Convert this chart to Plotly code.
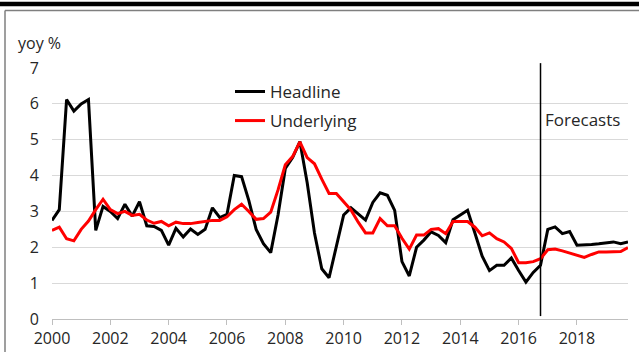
import plotly.graph_objects as go

# ---- data (quarterly, 2000Q1 .. 2019Q4) ----
start_year = 2000
headline = [2.75, 3.05, 6.12, 5.8, 6.0, 6.12, 2.47, 3.14, 3.0, 2.8,
            3.2, 2.87, 3.27, 2.6, 2.58, 2.47, 2.06, 2.53, 2.29, 2.51,
            2.36, 2.5, 3.1, 2.83, 2.92, 4.0, 3.97, 3.3, 2.5, 2.1,
            1.85, 2.9, 4.2, 4.5, 4.95, 3.8, 2.4, 1.4, 1.15, 2.0,
            2.9, 3.1, 2.92, 2.76, 3.25, 3.52, 3.45, 3.03, 1.6, 1.2,
            2.0, 2.2, 2.43, 2.33, 2.13, 2.77, 2.9, 3.03, 2.4, 1.75,
            1.35, 1.5, 1.5, 1.7, 1.35, 1.03, 1.3, 1.5, 2.5, 2.57,
            2.38, 2.44, 2.06, 2.06, 2.08, 2.1, 2.12, 2.15, 2.1, 2.15]
underlying = [2.47, 2.56, 2.24, 2.18, 2.5, 2.73, 3.05, 3.34, 3.05, 2.94,
              3.0, 2.89, 2.92, 2.76, 2.67, 2.72, 2.6, 2.7, 2.66, 2.66,
              2.69, 2.73, 2.75, 2.75, 2.85, 3.05, 3.2, 3.0, 2.78, 2.8,
              2.98, 3.6, 4.3, 4.53, 4.94, 4.5, 4.33, 3.9, 3.5, 3.5,
              3.28, 3.04, 2.7, 2.4, 2.4, 2.8, 2.6, 2.6, 2.25, 1.95,
              2.34, 2.34, 2.5, 2.52, 2.38, 2.72, 2.72, 2.72, 2.56, 2.32,
              2.4, 2.24, 2.15, 1.97, 1.57, 1.57, 1.6, 1.68, 1.93, 1.95,
              1.9, 1.84, 1.77, 1.72, 1.8, 1.87, 1.87, 1.88, 1.88, 1.99]
x_ticks = [2000, 2002, 2004, 2006, 2008, 2010, 2012, 2014, 2016, 2018]
y_ticks = [0, 1, 2, 3, 4, 5, 6, 7]
forecast_start = 2016.75
series_names = ["Headline", "Underlying"]

x = [start_year + i / 4 for i in range(len(headline))]

# ---- layout geometry ----
W, H = 639, 360
L, R, T, B = 52, 11, 68, 34
PW, PH = W - L - R, H - T - B

def px(xp):
    return (xp - L) / PW

def py(yp):
    return (H - B - yp) / PH

FONT = "Open Sans"
TXT = "#262626"

fig = go.Figure()
fig.add_trace(go.Scatter(x=x, y=headline, mode="lines", name=series_names[0],
                         line=dict(color="#000000", width=3), legend="legend", showlegend=True))
fig.add_trace(go.Scatter(x=x, y=underlying, mode="lines", name=series_names[1],
                         line=dict(color="#ff0000", width=3), legend="legend2", showlegend=True))

shapes = [
    dict(type="rect", xref="paper", yref="paper", x0=px(0), x1=px(W), y0=py(4.5), y1=py(0),
         fillcolor="#000000", line=dict(width=0), layer="above"),
    dict(type="line", xref="paper", yref="paper", x0=px(5), x1=px(W), y0=py(9), y1=py(9),
         line=dict(color="#7f7f7f", width=1.5)),
    dict(type="line", xref="paper", yref="paper", x0=px(5), x1=px(5), y0=py(9), y1=py(H),
         line=dict(color="#7f7f7f", width=1.5)),
    dict(type="line", xref="x", yref="paper", x0=forecast_start, x1=forecast_start,
         y0=py(323), y1=py(63), line=dict(color="#000000", width=1.5)),
]

annotations = [
    dict(text="yoy %", xref="paper", yref="paper", x=px(16), y=py(42), xanchor="left",
         yanchor="middle", showarrow=False, font=dict(family=FONT, size=16, color=TXT)),
    dict(text="Forecasts", xref="x", yref="paper", x=forecast_start, xshift=2, y=py(121),
         xanchor="left", yanchor="middle", showarrow=False,
         font=dict(family=FONT, size=17, color=TXT)),
]

fig.update_layout(
    width=W, height=H, margin=dict(l=L, r=R, t=T, b=B),
    paper_bgcolor="white", plot_bgcolor="white",
    font=dict(family=FONT, size=16, color=TXT),
    shapes=shapes, annotations=annotations,
    showlegend=True,
    legend=dict(x=px(230), y=py(74), xanchor="left", yanchor="top",
                bgcolor="rgba(0,0,0,0)", font=dict(family=FONT, size=17, color=TXT)),
    legend2=dict(x=px(230), y=py(104), xanchor="left", yanchor="top",
                 bgcolor="rgba(0,0,0,0)", font=dict(family=FONT, size=17, color=TXT)),
    xaxis=dict(range=[start_year, start_year + (len(headline) - 1) / 4],
               tickvals=x_ticks, ticktext=[str(v) for v in x_ticks],
               showgrid=False, zeroline=False, showline=True, linecolor="#bfbfbf", linewidth=1,
               ticks="outside", ticklen=5, tickcolor="#bfbfbf", tickwidth=1,
               tickfont=dict(family=FONT, size=16, color=TXT)),
    yaxis=dict(range=[0, 7], tickvals=y_ticks, showgrid=True, gridcolor="#d9d9d9", gridwidth=1,
               zeroline=False, showline=False, ticks="", ticklabelstandoff=12,
               tickfont=dict(family=FONT, size=16, color=TXT)),
)

fig.write_html("out.html")
